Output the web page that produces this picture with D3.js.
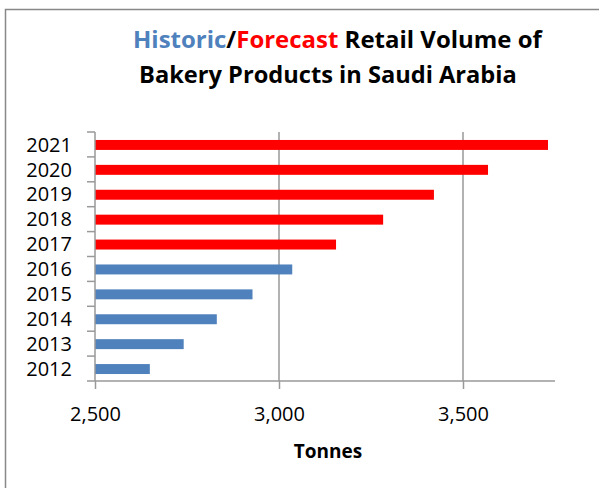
<!DOCTYPE html>
<html>
<head>
<meta charset="utf-8">
<script src="https://cdn.jsdelivr.net/npm/d3@7"></script>
<style>
  body { margin: 0; background: #fff; }
  text { font-family: "Open Sans", Lato, sans-serif; }
</style>
</head>
<body>
<div class="chart"></div>
<script>
// data
var years = ["2012","2013","2014","2015","2016","2017","2018","2019","2020","2021"];
var volumes = [2649, 2741, 2831, 2928, 3036, 3155, 3283, 3421, 3568, 3731];
var kind = ["historic","historic","historic","historic","historic","forecast","forecast","forecast","forecast","forecast"];
var xTicks = [2500, 3000, 3500];

var W = 599, H = 488;
var colors = {historic: "#4F81BD", forecast: "#FF0000"};

var svg = d3.select(".chart").append("svg")
    .attr("width", W).attr("height", H);

// outer frame
svg.append("rect")
    .attr("x", 5.5).attr("y", 9.5)
    .attr("width", W).attr("height", H)
    .attr("fill", "none").attr("stroke", "#888").attr("stroke-width", 1.5);

var x = d3.scaleLinear().domain([2500, 3750]).range([95, 555]);
var y = d3.scaleBand().domain(years.slice().reverse()).range([132, 381]);

// gridlines
svg.append("g").selectAll("line")
    .data(xTicks.slice(1))
    .enter().append("line")
        .attr("x1", function(d) { return x(d); })
        .attr("x2", function(d) { return x(d); })
        .attr("y1", 132).attr("y2", 381)
        .attr("stroke", "#999").attr("stroke-width", 1.5);

// bars
svg.append("g").selectAll("rect")
    .data(d3.range(years.length))
    .enter().append("rect")
        .attr("x", x(2500))
        .attr("y", function(i) { return y(years[i]) + y.bandwidth()*0.32; })
        .attr("width", function(i) { return x(volumes[i]) - x(2500); })
        .attr("height", y.bandwidth()*0.4)
        .attr("fill", function(i) { return colors[kind[i]]; });

// x axis
var xAxis = svg.append("g")
    .attr("transform", "translate(0,381)")
    .call(d3.axisBottom(x).tickValues(xTicks).tickSize(8).tickSizeOuter(0)
        .tickFormat(d3.format(",")));
xAxis.select(".domain").attr("stroke", "#999").attr("stroke-width", 1.5)
    .attr("d", "M87,0H555");
xAxis.selectAll(".tick line").attr("stroke", "#999").attr("stroke-width", 1.5);
xAxis.selectAll(".tick text")
    .attr("y", 40).attr("dy", 0)
    .attr("font-size", 20).attr("fill", "#000")
    .style("font-family", "'Open Sans', sans-serif");

// y axis - ticks sit on the band edges
var yAxis = svg.append("g").attr("transform", "translate(95,0)");
yAxis.append("line")
    .attr("x1", 0).attr("x2", 0).attr("y1", 132).attr("y2", 381)
    .attr("stroke", "#999").attr("stroke-width", 1.5);
yAxis.selectAll("line.tk")
    .data(years)
    .enter().append("line")
        .attr("class", "tk")
        .attr("x1", -8).attr("x2", 0)
        .attr("y1", function(d) { return y(d); })
        .attr("y2", function(d) { return y(d); })
        .attr("stroke", "#999").attr("stroke-width", 1.5);
yAxis.selectAll("text")
    .data(years)
    .enter().append("text")
        .attr("x", -23)
        .attr("y", function(d) { return y(d) + y.bandwidth()/2; })
        .attr("dy", "0.36em")
        .attr("text-anchor", "end")
        .attr("font-size", 20)
        .text(function(d) { return d; });

// axis title
svg.append("text")
    .attr("x", 328).attr("y", 458)
    .attr("text-anchor", "middle")
    .attr("font-size", 19).attr("font-weight", "bold")
    .text("Tonnes");

// title, squeezed horizontally to the reference width
function titleLine(left, base, width) {
  var g = svg.append("g");
  var t = g.append("text").attr("x", 0).attr("y", 0)
      .attr("font-size", 23).attr("font-weight", "bold");
  return {g: g, t: t, fit: function() {
    var sx = width / t.node().getComputedTextLength();
    g.attr("transform", "translate(" + left + "," + base + ") scale(" + sx + ",1)");
  }};
}
var l1 = titleLine(133, 48, 409);
l1.t.append("tspan").attr("fill", colors.historic).text("Historic");
l1.t.append("tspan").attr("fill", "#000").text("/");
l1.t.append("tspan").attr("fill", colors.forecast).text("Forecast");
l1.t.append("tspan").attr("fill", "#000").text(" Retail Volume of");
l1.fit();

var l2 = titleLine(139, 83, 378);
l2.t.text("Bakery Products in Saudi Arabia");
l2.fit();
</script>
</body>
</html>
